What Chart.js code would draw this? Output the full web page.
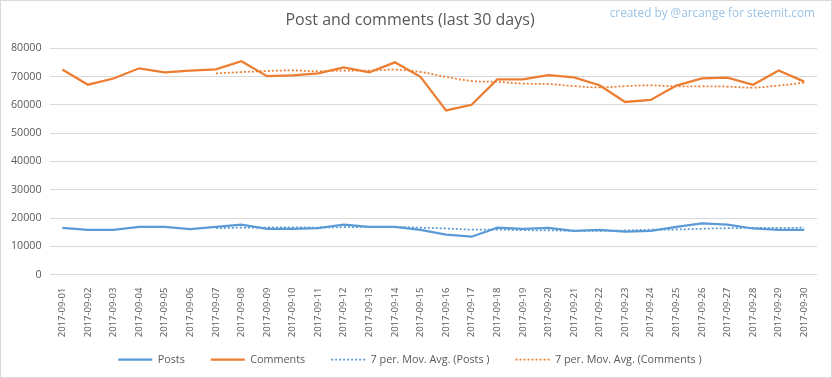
<!DOCTYPE html>
<html>
<head>
<meta charset="utf-8">
<script src="https://cdn.jsdelivr.net/npm/chart.js@4.4.0/dist/chart.umd.min.js"></script>
<style>
  html, body { margin: 0; padding: 0; background: #fff; }
  #wrap { width: 830px; height: 376px; border: 1px solid #d9d9d9; position: relative; }
</style>
</head>
<body>
<div id="wrap"><canvas id="lineChart"></canvas></div>
<script>
const days = ["2017-09-01","2017-09-02","2017-09-03","2017-09-04","2017-09-05","2017-09-06","2017-09-07","2017-09-08","2017-09-09","2017-09-10",
  "2017-09-11","2017-09-12","2017-09-13","2017-09-14","2017-09-15","2017-09-16","2017-09-17","2017-09-18","2017-09-19","2017-09-20",
  "2017-09-21","2017-09-22","2017-09-23","2017-09-24","2017-09-25","2017-09-26","2017-09-27","2017-09-28","2017-09-29","2017-09-30"];

const posts = [16500,15800,15800,16900,16900,16100,16900,17700,16200,16200,
  16400,17700,16900,16900,15800,14100,13400,16600,16200,16500,
  15500,15800,15200,15500,16900,18100,17700,16300,15800,15800];

const comments = [72500,67100,69300,72900,71500,72100,72500,75400,70100,70400,
  71100,73200,71500,75000,69900,58000,60000,69000,69000,70500,
  69700,66900,61000,61700,66800,69300,69600,67100,72100,68200];

// dotted trend lines (start on day 7)
const postsAvg = [null,null,null,null,null,null,16400,16600,16650,16700,
  16650,16750,16850,16850,16600,16300,15900,15900,15700,15650,
  15450,15450,15600,15900,15950,16200,16400,16500,16500,16600];

const commentsAvg = [null,null,null,null,null,null,71100,71550,71950,72150,
  71850,72100,72050,72400,71600,69850,68400,68100,67500,67350,
  66600,66150,66600,66850,66500,66550,66450,66050,66800,67800];

const yTicks = [0,10000,20000,30000,40000,50000,60000,70000,80000];

const blue = "#5b9bd5";
const orange = "#ed7d31";
const txt = "#595959";
const fontFam = "'Open Sans', sans-serif";
const legendTuck = 14; // legend overlaps the bottom of the rotated date labels

const watermark = {
    id: "watermark",
    afterDraw(c) {
        const ctx = c.ctx;
        ctx.save();
        ctx.font = "11.8px " + fontFam;
        ctx.fillStyle = "#9dc3e6";
        ctx.textAlign = "right";
        ctx.textBaseline = "middle";
        ctx.fillText("created by @arcange for steemit.com", 814, 13);
        ctx.restore();
    }
};

const legendShift = {
    id: "legendShift",
    beforeLayout(c) {
        const lg = c.legend;
        if (!lg || lg._tucked) return;
        const fit = lg.fit;
        lg.fit = function() { fit.call(this); this.height -= legendTuck; };
        lg._tucked = true;
    },
    afterLayout(c) {
        const lg = c.legend;
        lg.top -= legendTuck;
        lg.height += legendTuck;
    }
};

function legendLabels(chart) {
    const items = Chart.defaults.plugins.legend.labels.generateLabels(chart);
    items.forEach(item => {
        const ds = chart.data.datasets[item.datasetIndex];
        item.lineDash = ds.borderDash || [];
        item.lineWidth = ds.borderWidth;
        item.strokeStyle = ds.borderColor;
    });
    return items;
}

const ctx = document.getElementById("lineChart");
const line = new Chart(ctx, {
    type: "line",
    data: {
        labels: days,
        datasets: [{
            label: "Posts",
            data: posts,
            borderColor: blue,
            backgroundColor: blue,
            borderWidth: 2.25,
            pointRadius: 0,
            tension: 0
        }, {
            label: "Comments",
            data: comments,
            borderColor: orange,
            backgroundColor: orange,
            borderWidth: 2.25,
            pointRadius: 0,
            tension: 0
        }, {
            label: "7 per. Mov. Avg. (Posts )",
            data: postsAvg,
            borderColor: blue,
            backgroundColor: blue,
            borderWidth: 1.75,
            borderDash: [2, 2],
            pointRadius: 0,
            tension: 0.4
        }, {
            label: "7 per. Mov. Avg. (Comments )",
            data: commentsAvg,
            borderColor: orange,
            backgroundColor: orange,
            borderWidth: 1.75,
            borderDash: [2, 2],
            pointRadius: 0,
            tension: 0.4
        }]
    },
    options: {
        responsive: true,
        maintainAspectRatio: false,
        animation: false,
        layout: { padding: { left: 2, right: 14, top: 4, bottom: 2 } },
        scales: {
            x: {
                offset: true,
                grid: { display: false },
                border: { display: false },
                ticks: {
                    color: txt,
                    font: { family: fontFam, size: 9.5 },
                    minRotation: 90,
                    maxRotation: 90,
                    autoSkip: false,
                    padding: 5
                }
            },
            y: {
                min: 0,
                max: 80000,
                afterBuildTicks: axis => { axis.ticks = yTicks.map(v => ({ value: v })); },
                grid: { color: "#d9d9d9", drawTicks: false },
                border: { display: false },
                ticks: {
                    color: txt,
                    font: { family: fontFam, size: 10.7 },
                    padding: 8,
                    callback: v => String(v)
                }
            }
        },
        plugins: {
            title: {
                display: true,
                text: "Post and comments (last 30 days)",
                color: txt,
                font: { family: fontFam, size: 16, weight: "normal" },
                padding: { top: 6, bottom: 18 }
            },
            legend: {
                display: true,
                position: "bottom",
                labels: {
                    color: txt,
                    font: { family: fontFam, size: 10.8 },
                    usePointStyle: true,
                    pointStyle: "line",
                    pointStyleWidth: 34,
                    boxHeight: 8,
                    padding: 26,
                    generateLabels: legendLabels
                }
            },
            tooltip: { enabled: false }
        }
    },
    plugins: [watermark, legendShift]
});
</script>
</body>
</html>
